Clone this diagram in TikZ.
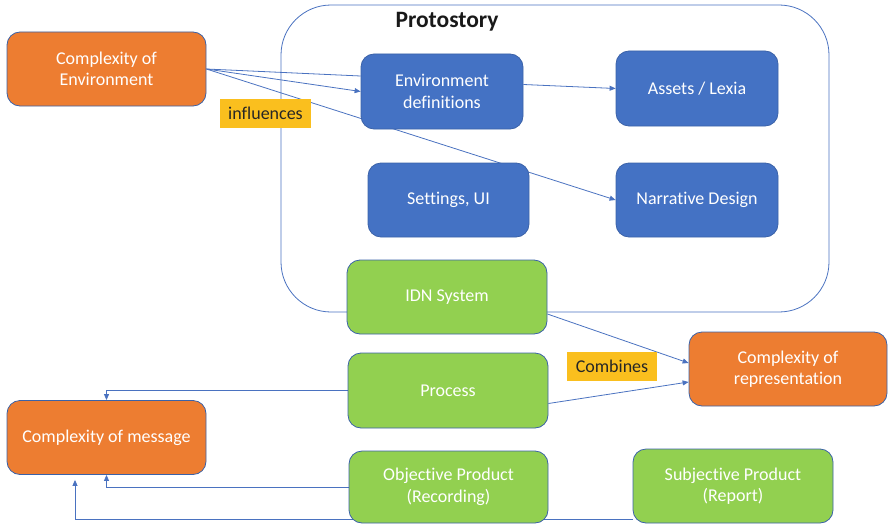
\documentclass[tikz,border=0pt]{standalone}
\usepackage{fontspec}
\setmainfont{Carlito}[Ligatures=NoCommon]
\usetikzlibrary{arrows.meta,backgrounds}
\definecolor{cOrange}{HTML}{ED7D31}
\definecolor{cBlue}{HTML}{4472C4}
\definecolor{cGreen}{HTML}{92D050}
\definecolor{cYellow}{HTML}{FABF1E}
\definecolor{cEdge}{HTML}{3B62A8}
\definecolor{cLine}{HTML}{4A72C0}
\tikzset{
  box/.style={draw=cEdge, line width=0.8pt, rounded corners=13pt, align=center,
    text=white, inner sep=0pt, font=\fontsize{18}{21.5}\selectfont},
  obox/.style={box, fill=cOrange, minimum width=199pt, minimum height=74pt},
  bbox/.style={box, fill=cBlue, minimum width=162pt, minimum height=75pt},
  gbox/.style={box, fill=cGreen, minimum width=200pt, minimum height=74pt},
  tag/.style={fill=cYellow, inner sep=0pt, minimum width=91pt, minimum height=29pt,
    font=\fontsize{18}{21}\selectfont, text=black!85},
  conn/.style={draw=cLine, line width=0.8pt},
  arr/.style={conn, -{Triangle[length=6pt,width=5pt]}},
}
\begin{document}
\begin{tikzpicture}[x=1pt,y=-1pt]
\useasboundingbox (0,0) rectangle (888,527);

% orange complexity boxes
\node[obox] (env) at (106.5,69) {Complexity of\\Environment};
\node[obox] (msg) at (106.5,437.5) {Complexity of message};
\node[obox, minimum width=198pt] (rep) at (788,369) {Complexity of\\representation};

% Protostory contents
\node[font=\fontsize{23.5}{27}\selectfont\bfseries, text=black!90] (title) at (447,22) {Protostory};
\node[bbox] (envdef) at (442,91.5) {Environment\\definitions};
\node[bbox] (assets) at (697,88.5) {Assets / Lexia};
\node[bbox, minimum width=161pt, minimum height=74pt] (settings) at (448.5,200) {Settings, UI};
\node[bbox, minimum height=74pt] (narr) at (697,200) {Narrative Design};

% green system / product boxes
\node[gbox] (idn) at (447,297) {IDN System};
\node[gbox, minimum height=75pt] (process) at (448,390.5) {Process};
\node[gbox, minimum width=199pt, minimum height=72pt] (obj) at (448.5,487) {Objective Product\\(Recording)};
\node[gbox] (subj) at (733,486) {Subjective Product\\(Report)};

% labels
\node[tag] (infl) at (265.5,113.5) {influences};
\node[tag, minimum width=90pt] (comb) at (612,366.5) {Combines};

\coordinate (msgin) at ([xshift=-31.5pt,yshift=-5pt]msg.south);

\begin{scope}[on background layer]
  % Protostory frame
  \draw[draw=cLine, line width=0.8pt, rounded corners=50pt] (281,5) rectangle (829,312);
  % influences from the environment
  \draw[conn] (env.east) -- ([yshift=15.5pt]envdef.west);
  \draw[arr] (env.east) -- (envdef.west);
  \draw[arr] (env.east) -- (narr.west);
  \draw[arr] ([yshift=7pt]envdef.east) -- (assets.west);
  % combination into representation
  \draw[arr] ([yshift=-17pt]idn.east) -- ([yshift=6pt]rep.west);
  \draw[arr] ([yshift=-13pt]process.east) -- ([yshift=-13pt]rep.west);
  % feeds into the message
  \draw[arr] (process.west) -| (msg.north);
  \draw[arr] (obj.west) -| (msg.south);
  \draw[arr] ([yshift=-33pt]subj.west) -| (msgin);
\end{scope}
\end{tikzpicture}
\end{document}
